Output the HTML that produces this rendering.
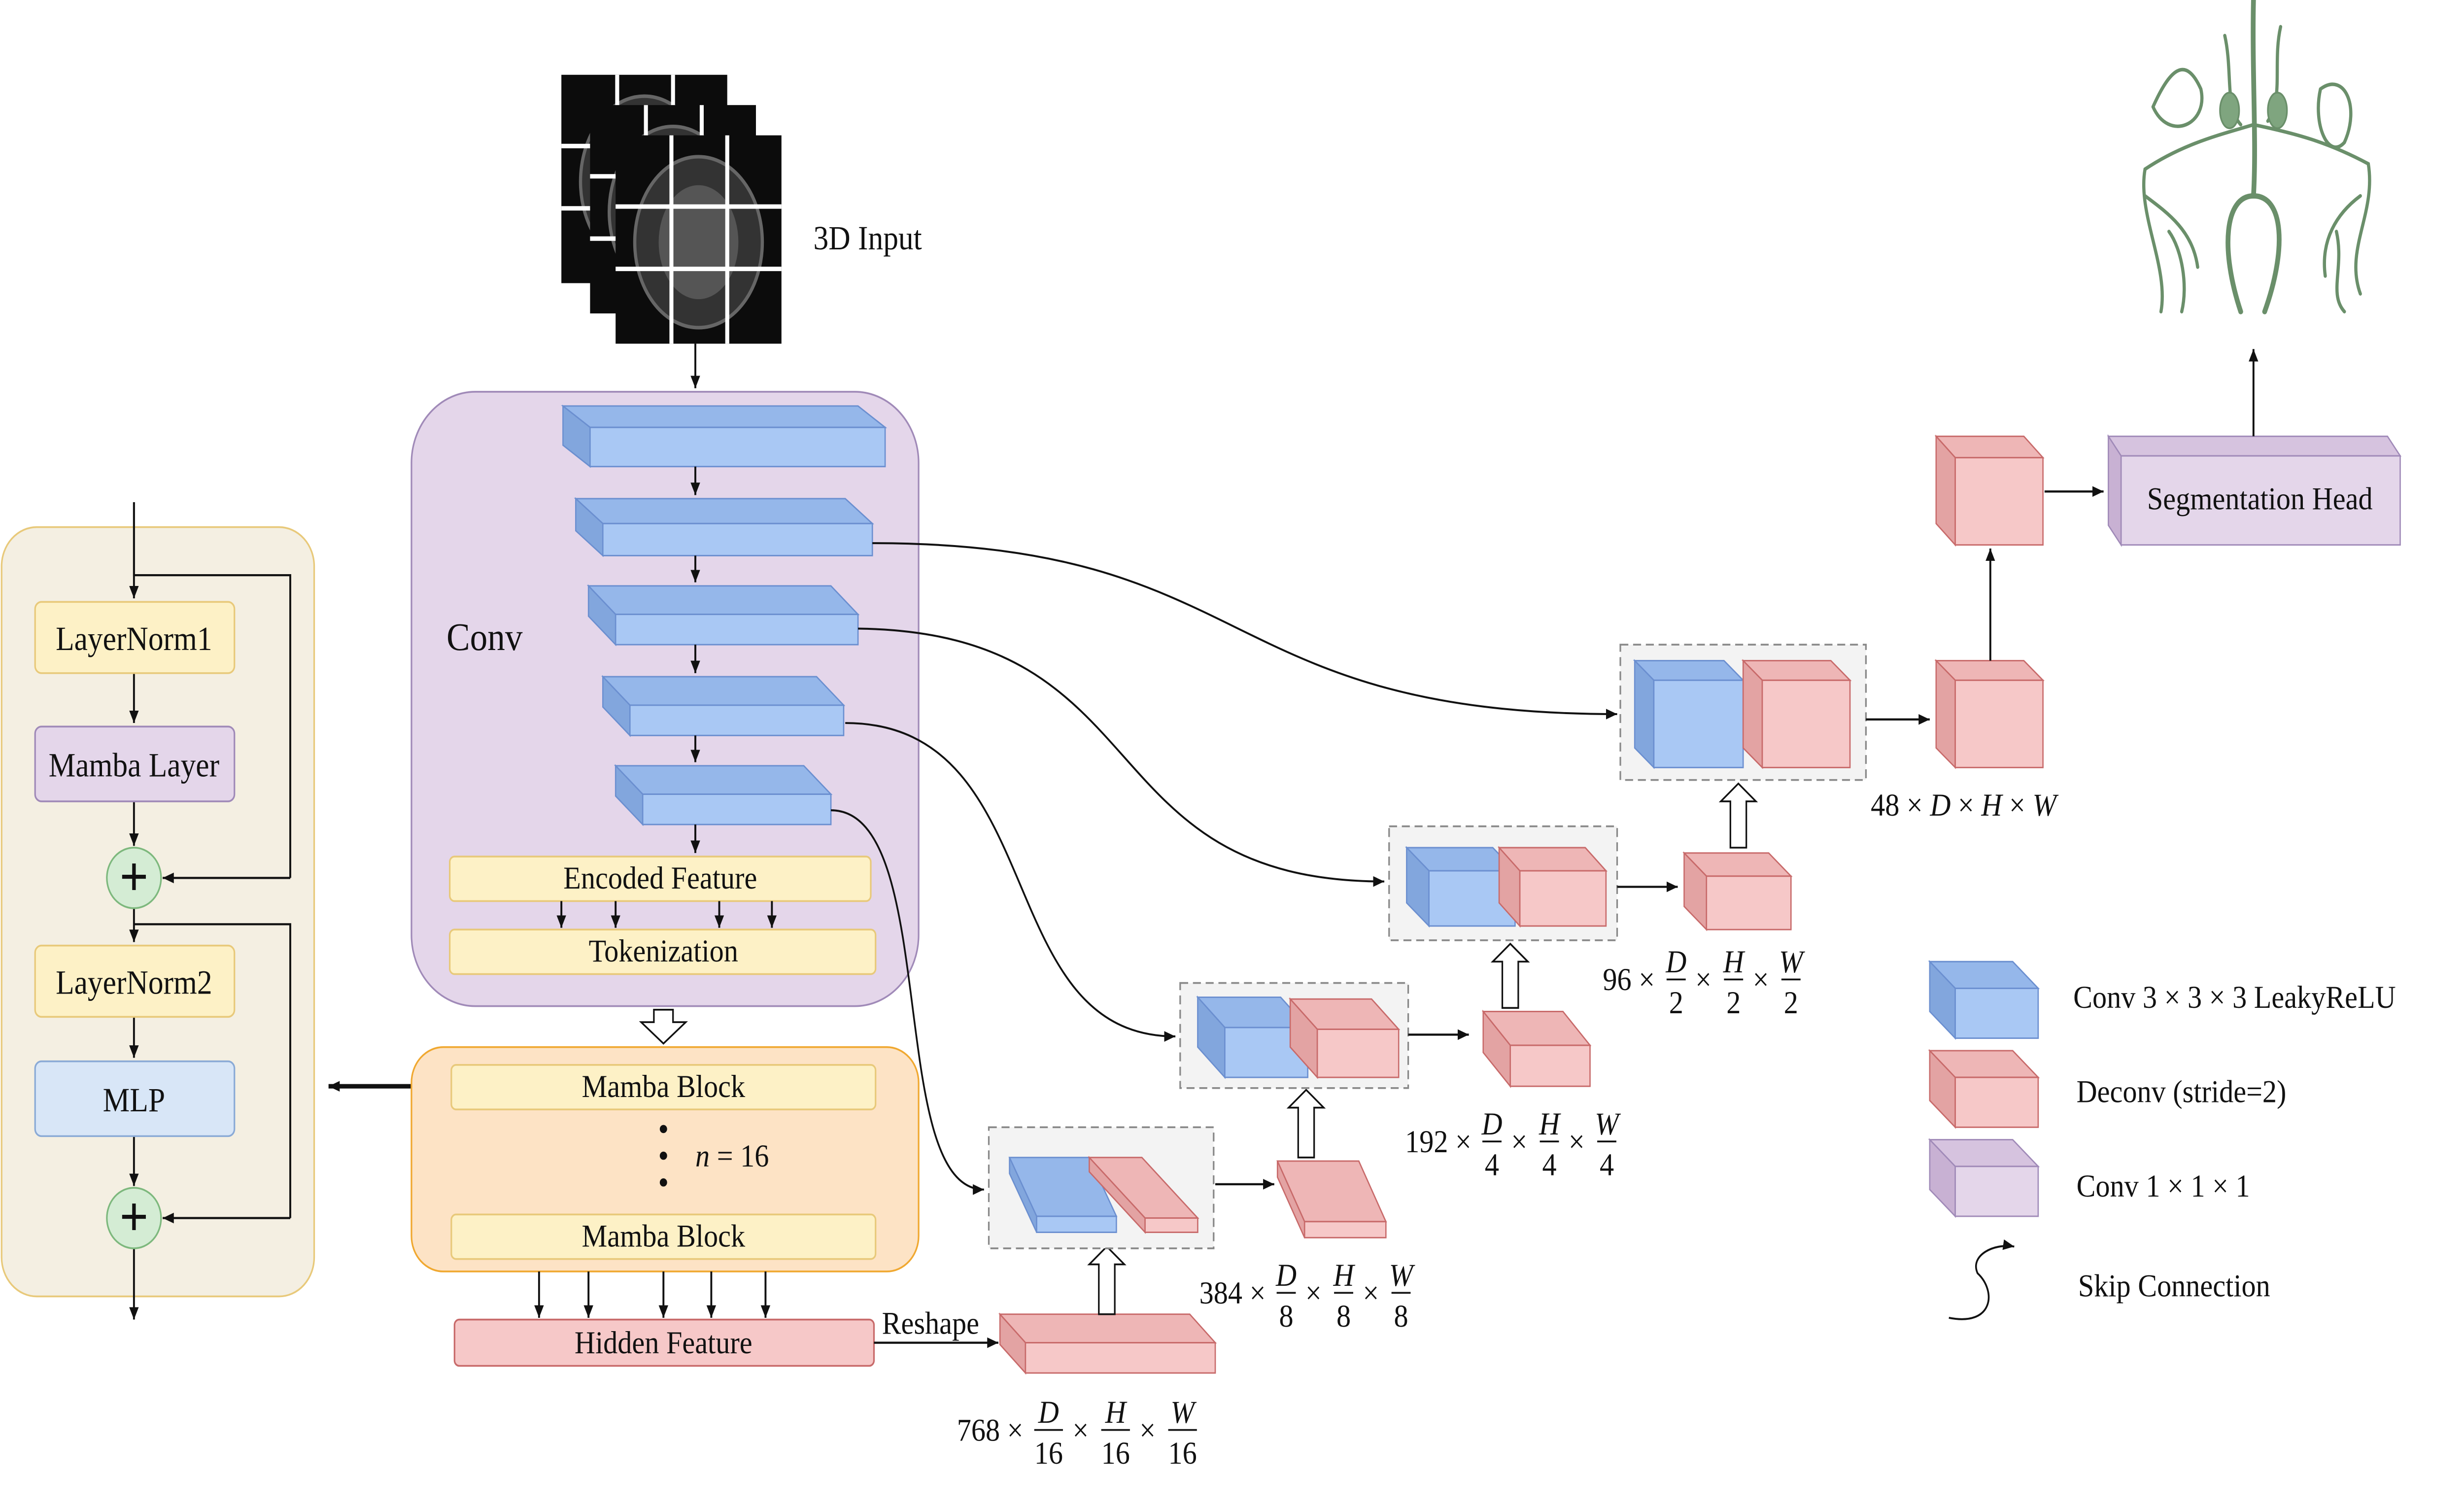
<!DOCTYPE html>
<html><head><meta charset="utf-8"><style>
html,body{margin:0;padding:0;background:#fff;width:100%;height:100%;overflow:hidden}
svg{display:block;width:100vw;height:100vh;position:absolute;left:0;top:0}
text{font-family:"Liberation Serif",serif;fill:#111}
</style></head><body>
<svg id="s" viewBox="0 0 1545 848.5" preserveAspectRatio="none" xmlns="http://www.w3.org/2000/svg">
<defs>
<marker id="ah" markerWidth="8" markerHeight="8" refX="7" refY="4" orient="auto" markerUnits="userSpaceOnUse"><path d="M0,1 L7,4 L0,7 z" fill="#111"/></marker>
</defs>
<g id="root"></g>
</svg>
<script>
const NS='http://www.w3.org/2000/svg';
const root=document.getElementById('root');
function el(tag,attrs,parent,name){const e=document.createElementNS(NS,tag);for(const k in attrs)e.setAttribute(k,attrs[k]);(parent||root).appendChild(e);


return e;}
function txt(x,y,s,size,name,extra){const t=el('text',Object.assign({x:x,y:y,'font-size':size||18},extra||{}),null,name);t.textContent=s;return t;}
function arrow(pts,name,w){el('polyline',{points:pts,fill:'none',stroke:'#111','stroke-width':w||1.2,'marker-end':'url(#ah)'},null,name);}
function line(pts,name){el('polyline',{points:pts,fill:'none',stroke:'#111','stroke-width':1.2},null,name);}
const C={blue:['#a9c8f4','#95b7ea','#82a6dd','#6b8fd0'],pink:['#f6c8c8','#eeb6b6','#e3a3a3','#c86a6a'],purple:['#e4d6ea','#d6c3df','#c8b1d3','#a08ab8']};
function box3d(x,y,w,h,dx,dy,col,name){const c=C[col];const g=el('g',{},null,name);
el('polygon',{points:`${x},${y} ${x-dx},${y-dy} ${x-dx+w},${y-dy} ${x+w},${y}`,fill:c[1],stroke:c[3],'stroke-width':0.8},g,name+'-top');
el('polygon',{points:`${x},${y} ${x-dx},${y-dy} ${x-dx},${y-dy+h} ${x},${y+h}`,fill:c[2],stroke:c[3],'stroke-width':0.8},g,name+'-side');
el('rect',{x:x,y:y,width:w,height:h,fill:c[0],stroke:c[3],'stroke-width':0.8},g,name+'-front');return g;}
function rbox(x,y,w,h,fill,stroke,r,name){return el('rect',{x:x,y:y,width:w,height:h,rx:r,fill:fill,stroke:stroke,'stroke-width':1},null,name);}
function hollowUp(x,y1,y2,name){el('path',{d:`M${x-5},${y1} L${x-5},${y2+10} L${x-11},${y2+10} L${x},${y2} L${x+11},${y2+10} L${x+5},${y2+10} L${x+5},${y1} Z`,fill:'#fff',stroke:'#111','stroke-width':1},null,name);}
function frac(x,y,lead,parts,name){const g=el('g',{},null,name);let cx=x;
const t=el('text',{x:cx,y:y+6,'font-size':18},g,name+'-lead');t.textContent=lead;cx+=lead.length*8.5+6;
parts.forEach((p,i)=>{const w=Math.max(p[1].length*9,12);
const n=el('text',{x:cx+w/2,y:y-4,'font-size':18,'font-style':'italic','text-anchor':'middle'},g,name+'-num');n.textContent=p[0];
el('line',{x1:cx,y1:y,x2:cx+w,y2:y,stroke:'#111','stroke-width':1},g,name+'-bar');
const d=el('text',{x:cx+w/2,y:y+19,'font-size':18,'text-anchor':'middle'},g,name+'-den');d.textContent=p[1];
cx+=w+4;if(i<parts.length-1){const m=el('text',{x:cx+2,y:y+6,'font-size':18},g,name+'-times');m.textContent='×';cx+=20;}});}

rbox(1,296,196,432,'#f4efe2','#e8c97a',22,'transformer-block-panel');
line('84,282 84,323 182,323 182,493','residual-line-1');arrow('182,493 102,493','residual-arrow-1');
line('84,519 182,519 182,684','residual-line-2');arrow('182,684 102,684','residual-arrow-2');
arrow('84,282 84,336','in-arrow');arrow('84,378 84,406','a1');arrow('84,450 84,475','a2');arrow('84,510 84,529','a3');arrow('84,571 84,594','a4');arrow('84,638 84,666','a5');arrow('84,701 84,741','out-arrow');
rbox(22,338,125,40,'#fdf1c6','#e8c97a',4,'layernorm1-box');txt(84,365,'LayerNorm1',19,'layernorm1-label',{'text-anchor':'middle'});
rbox(22,408,125,42,'#e4d6ea','#a08ab8',4,'mamba-layer-box');txt(84,436,'Mamba Layer',19,'mamba-layer-label',{'text-anchor':'middle'});
rbox(22,531,125,40,'#fdf1c6','#e8c97a',4,'layernorm2-box');txt(84,558,'LayerNorm2',19,'layernorm2-label',{'text-anchor':'middle'});
rbox(22,596,125,42,'#d8e6f7','#8aaad6',4,'mlp-box');txt(84,624,'MLP',19,'mlp-label',{'text-anchor':'middle'});
[[493,'add-1'],[684,'add-2']].forEach(p=>{el('circle',{cx:84,cy:p[0],r:17,fill:'#d4ecd4',stroke:'#7db87d','stroke-width':1},null,p[1]);txt(84,p[0]+10,'+',32,p[1]+'-sign',{'text-anchor':'middle','font-weight':'bold'});});
el('line',{x1:258,y1:610,x2:206,y2:610,stroke:'#111','stroke-width':2.5,'marker-end':'url(#ah)'},null,'detail-arrow');

[[352,42],[370,59],[386,76]].forEach((p,i)=>{const g=el('g',{},null,'mri-slice-'+i);
el('rect',{x:p[0],y:p[1],width:104,height:117,fill:'#0c0c0c'},g,'slice-bg');
el('ellipse',{cx:p[0]+52,cy:p[1]+60,rx:40,ry:48,fill:'#333',stroke:'#666','stroke-width':2},g,'slice-brain');
el('ellipse',{cx:p[0]+52,cy:p[1]+60,rx:25,ry:32,fill:'#555'},g,'slice-inner');
[35,70].forEach(d=>{el('line',{x1:p[0]+d,y1:p[1],x2:p[0]+d,y2:p[1]+117,stroke:'#fff','stroke-width':2.5},g,'grid-v');el('line',{x1:p[0],y1:p[1]+d+5,x2:p[0]+104,y2:p[1]+d+5,stroke:'#fff','stroke-width':2.5},g,'grid-h');});});
txt(510,140,'3D Input',19,'input-label');
arrow('436,193 436,218','input-arrow');

rbox(258,220,318,345,'#e4d6ea','#a08ab8',40,'encoder-panel');
txt(280,365,'Conv',22,'conv-label');
const slabs=[[370,240,185,22,17,12],[378,294,169,18,17,14],[386,345,152,17,17,16],[395,396,134,17,17,16],[403,446,118,17,17,16]];
slabs.forEach((s,i)=>box3d(s[0],s[1],s[2],s[3],s[4],s[5],'blue','encoder-stage-'+(i+1)));
[[262,278],[312,327],[362,378],[413,428],[463,479]].forEach((p,i)=>arrow(`436,${p[0]} 436,${p[1]}`,'enc-arrow-'+i));
rbox(282,481,264,25,'#fdf1c6','#e8c97a',3,'encoded-feature-box');txt(414,499,'Encoded Feature',18,'encoded-feature-label',{'text-anchor':'middle'});
rbox(282,522,267,25,'#fdf1c6','#e8c97a',3,'tokenization-box');txt(416,540,'Tokenization',18,'tokenization-label',{'text-anchor':'middle'});
[352,386,451,484].forEach((x,i)=>arrow(`${x},506 ${x},521`,'tok-arrow-'+i));
el('path',{d:'M410,567 L422,567 L422,574 L430,574 L416,586 L402,574 L410,574 Z',fill:'#fff',stroke:'#111','stroke-width':1},null,'hollow-down-arrow');

rbox(258,588,318,126,'#fde3c5','#f0a830',20,'mamba-panel');
rbox(283,598,266,25,'#fdf1c6','#e8c97a',3,'mamba-block-1');txt(416,616,'Mamba Block',18,'mamba-block-1-label',{'text-anchor':'middle'});
rbox(283,682,266,25,'#fdf1c6','#e8c97a',3,'mamba-block-2');txt(416,700,'Mamba Block',18,'mamba-block-2-label',{'text-anchor':'middle'});
[634,649,664].forEach(y=>el('circle',{cx:416,cy:y,r:2.3,fill:'#111'},null,'ellipsis-dot'));
const nt=txt(436,655,'',18,'n-label');nt.innerHTML='<tspan font-style="italic">n</tspan> = 16';
[338,369,416,446,480].forEach((x,i)=>arrow(`${x},714 ${x},740`,'hid-arrow-'+i));
rbox(285,741,263,26,'#f6c8c8','#c86a6a',3,'hidden-feature-box');txt(416,760,'Hidden Feature',18,'hidden-feature-label',{'text-anchor':'middle'});
txt(553,749,'Reshape',18,'reshape-label');arrow('548,754 626,754','reshape-arrow');

box3d(643,754,119,17,16,16,'pink','bottleneck-volume');
frac(600,803,'768 ×',[['D','16'],['H','16'],['W','16']],'bottleneck-dims');
hollowUp(694,738,700,'up-arrow-1');
rbox(620,633,141,68,'#f3f3f3','#888',0,'concat-box-1').setAttribute('stroke-dasharray','5,3');
box3d(650,683,50,9,17,33,'blue','skip-feature-1');box3d(718,684,33,8,35,34,'pink','up-feature-1');
arrow('762,665 799,665','arrow-d1');
box3d(818,686,51,9,17,34,'pink','deconv-1');
frac(752,726,'384 ×',[['D','8'],['H','8'],['W','8']],'dims-1');
hollowUp(819,650,612,'up-arrow-2');
rbox(740,552,143,59,'#f3f3f3','#888',0,'concat-box-2').setAttribute('stroke-dasharray','5,3');
box3d(768,577,52,28,17,17,'blue','skip-feature-2');box3d(826,578,51,27,17,17,'pink','up-feature-2');
arrow('883,581 921,581','arrow-d2');
box3d(947,587,50,23,17,19,'pink','deconv-2');
frac(881,641,'192 ×',[['D','4'],['H','4'],['W','4']],'dims-2');
hollowUp(947,566,530,'up-arrow-3');
rbox(871,464,143,64,'#f3f3f3','#888',0,'concat-box-3').setAttribute('stroke-dasharray','5,3');
box3d(896,489,54,31,14,13,'blue','skip-feature-3');box3d(953,489,54,31,13,13,'pink','up-feature-3');
arrow('1014,498 1052,498','arrow-d3');
box3d(1070,492,53,30,14,13,'pink','deconv-3');
frac(1005,550,'96 ×',[['D','2'],['H','2'],['W','2']],'dims-3');
hollowUp(1090,476,440,'up-arrow-4');
rbox(1016,362,154,76,'#f3f3f3','#888',0,'concat-box-4').setAttribute('stroke-dasharray','5,3');
box3d(1037,382,56,49,12,11,'blue','skip-feature-4');box3d(1105,382,55,49,12,11,'pink','up-feature-4');
arrow('1170,404 1210,404','arrow-d4');
box3d(1226,382,55,49,12,11,'pink','deconv-4');
const d4=txt(1173,458,'',18,'dims-4');d4.innerHTML='48 × <tspan font-style="italic">D</tspan> × <tspan font-style="italic">H</tspan> × <tspan font-style="italic">W</tspan>';
arrow('1248,371 1248,308','arrow-up-final');
box3d(1226,257,55,49,12,12,'pink','final-deconv');
arrow('1282,276 1319,276','arrow-to-head');
box3d(1330,256,175,50,8,11,'purple','segmentation-head-box');
txt(1417,286,'Segmentation Head',18,'segmentation-head-label',{'text-anchor':'middle'});
arrow('1413,245 1413,196','arrow-to-output');

const vg=el('g',{fill:'none',stroke:'#6a8f6a','stroke-linecap':'round'},null,'vessel-segmentation-output');
['M1413,0 C1412,40 1415,80 1413,110','M1413,110 C1395,110 1392,140 1405,175','M1413,110 C1432,110 1434,140 1420,175','M1413,70 C1395,75 1370,80 1345,95 C1340,120 1360,150 1355,175','M1413,70 C1440,75 1460,80 1485,92 C1490,120 1470,140 1480,165','M1350,60 C1360,40 1370,30 1380,50 C1385,70 1360,80 1350,60','M1455,50 C1470,40 1480,60 1470,80 C1460,90 1450,70 1455,50','M1395,20 C1400,40 1395,60 1405,70','M1430,15 C1425,35 1432,55 1422,68','M1345,110 C1360,120 1375,130 1378,150','M1480,110 C1465,120 1455,135 1458,155','M1360,130 C1368,140 1372,160 1368,175','M1465,130 C1470,150 1460,165 1470,175']
.forEach((d,i)=>el('path',{d:d,'stroke-width':i<3?3:2},vg,'vessel-branch'));
el('ellipse',{cx:1398,cy:62,rx:6,ry:10,fill:'#7fa57f'},vg,'vessel-bulb-left');
el('ellipse',{cx:1428,cy:62,rx:6,ry:10,fill:'#7fa57f'},vg,'vessel-bulb-right');

[['M547,305 C790,305 760,401 1014,401','skip-1'],['M538,353 C730,355 680,495 868,495','skip-2'],['M530,406 C660,406 620,582 737,582','skip-3'],['M521,455 C590,455 555,668 617,668','skip-4']]
.forEach(p=>el('path',{d:p[0],fill:'none',stroke:'#111','stroke-width':1.1,'marker-end':'url(#ah)'},null,p[1]));

box3d(1226,555,52,28,16,15,'blue','legend-conv-icon');txt(1300,566,'Conv 3 × 3 × 3 LeakyReLU',18,'legend-conv-label');
box3d(1226,605,52,28,16,15,'pink','legend-deconv-icon');txt(1302,619,'Deconv (stride=2)',18,'legend-deconv-label');
box3d(1226,655,52,28,16,15,'purple','legend-conv1-icon');txt(1302,672,'Conv 1 × 1 × 1',18,'legend-conv1-label');
el('path',{d:'M1222,740 C1250,745 1252,725 1240,715 C1235,705 1250,698 1263,700',fill:'none',stroke:'#111','stroke-width':1.1,'marker-end':'url(#ah)'},null,'legend-skip-icon');
txt(1303,728,'Skip Connection',18,'legend-skip-label');
</script>
</body></html>
